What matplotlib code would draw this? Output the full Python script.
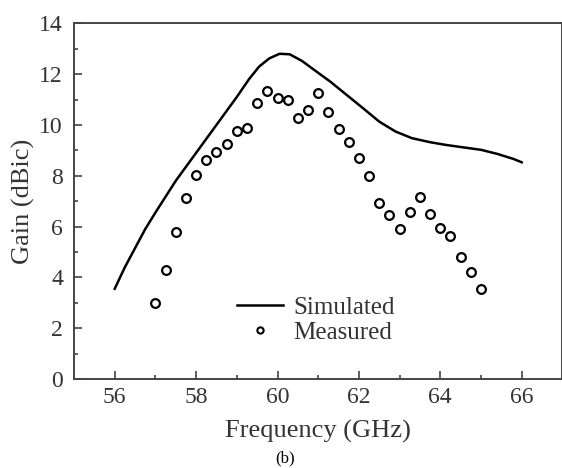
import matplotlib
matplotlib.use("Agg")
import matplotlib.pyplot as plt
from matplotlib.lines import Line2D

# Simulated gain
sim_freq = [56.0, 56.25, 56.5, 56.75, 57.0, 57.5, 58.0, 58.5, 59.0, 59.3, 59.55,
            59.8, 60.05, 60.3, 60.6, 61.0, 61.3, 61.7, 62.1, 62.5, 62.9, 63.3,
            63.75, 64.15, 64.55, 65.0, 65.4, 65.8, 66.0]
sim_gain = [3.55, 4.4, 5.15, 5.9, 6.55, 7.8, 8.9, 10.0, 11.1, 11.8, 12.3,
            12.62, 12.8, 12.78, 12.52, 12.05, 11.7, 11.18, 10.66, 10.13, 9.74, 9.48,
            9.32, 9.21, 9.12, 9.02, 8.86, 8.66, 8.53]

# Measured gain
meas_freq = [57.0, 57.25, 57.5, 57.75, 58.0, 58.25, 58.5, 58.75, 59.0, 59.25, 59.5,
             59.75, 60.0, 60.25, 60.5, 60.75, 61.0, 61.25, 61.5, 61.75, 62.0, 62.25,
             62.5, 62.75, 63.0, 63.25, 63.5, 63.75, 64.0, 64.25, 64.5, 64.75, 65.0]
meas_gain = [3.0, 4.3, 5.77, 7.13, 8.03, 8.6, 8.94, 9.24, 9.76, 9.87, 10.88,
             11.34, 11.05, 10.97, 10.29, 10.59, 11.27, 10.51, 9.84, 9.31, 8.68, 7.98,
             6.92, 6.46, 5.9, 6.57, 7.17, 6.49, 5.96, 5.62, 4.8, 4.21, 3.56]

x_major = [56, 58, 60, 62, 64, 66]
x_minor = [57, 59, 61, 63, 65]
y_major = [0, 2, 4, 6, 8, 10, 12, 14]
y_minor = [1, 3, 5, 7, 9, 11, 13]

plt.rcParams['font.family'] = ['Liberation Serif', 'DejaVu Serif']
txt = '#333333'
spine_c = '#444444'

fig = plt.figure(figsize=(5.62, 4.68), dpi=100)
ax = fig.add_axes([74/562, 1-379/468, 488.4/562, (379-23.3)/468])

ax.plot(sim_freq, sim_gain, color='black', lw=1.8, label='Simulated')
ax.plot(meas_freq, meas_gain, linestyle='none', marker='o', markersize=6.3,
        markerfacecolor='white', markeredgecolor='black', markeredgewidth=1.6,
        label='Measured')

ax.set_xlim(55, 67)
ax.set_ylim(0, 14)
ax.set_xticks(x_major)
ax.set_xticks(x_minor, minor=True)
ax.set_yticks(y_major)
ax.set_yticks(y_minor, minor=True)
ax.tick_params(which='both', direction='in', color=spine_c, width=1.2,
               labelsize=17, labelcolor=txt, top=False, right=False)
ax.tick_params(which='major', length=6)
ax.tick_params(which='minor', length=3)
ax.tick_params(axis='x', pad=6)
ax.tick_params(axis='y', pad=8)
for s in ax.spines.values():
    s.set_color(spine_c)
    s.set_linewidth(1.4)

ax.set_xlabel('Frequency (GHz)', fontsize=19, color=txt, labelpad=8)
ax.set_ylabel('Gain (dBic)', fontsize=19, color=txt, labelpad=3)

handles = [Line2D([], [], color='black', lw=1.8),
           Line2D([], [], linestyle='none', marker='o', markersize=4.5,
                  markerfacecolor='white', markeredgecolor='black', markeredgewidth=1.5)]
leg = ax.legend(handles, ['Simulated', 'Measured'], loc='upper left',
                bbox_to_anchor=((237-74)/488.4, (379-296)/(379-23.3)),
                frameon=False, fontsize=18, handlelength=1.85, handletextpad=0.4,
                labelspacing=0.12, borderpad=0.0, borderaxespad=0.0)
for t in leg.get_texts():
    t.set_color(txt)

fig.text(285/562, 1-458/468, '(b)', ha='center', va='center', fontsize=12, color='black')

fig.savefig('out.png', dpi=100)
